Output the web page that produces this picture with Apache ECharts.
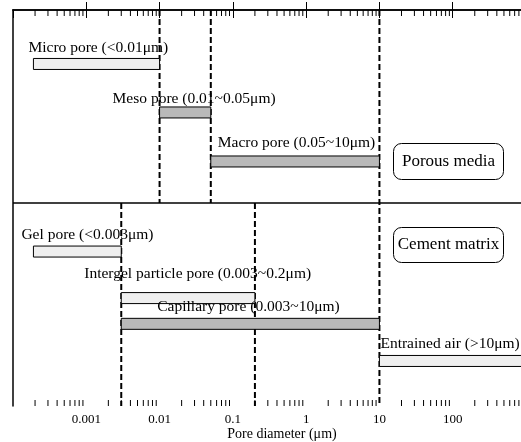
<!DOCTYPE html>
<html><head><meta charset="utf-8">
<script src="https://cdn.jsdelivr.net/npm/echarts@6/dist/echarts.min.js"></script>
<style>html,body{margin:0;padding:0;background:#fff}#c{width:521px;height:442px}</style>
</head><body><div id="c"></div>
<script>
// ---------------- data ----------------
const poreNames  = ['Micro pore', 'Meso pore', 'Macro pore', 'Gel pore', 'Intergel particle pore', 'Capillary pore', 'Entrained air'];
const poreRanges = ['(<0.01\u03bcm)', '(0.01~0.05\u03bcm)', '(0.05~10\u03bcm)', '(<0.003\u03bcm)', '(0.003~0.2\u03bcm)', '(0.003~10\u03bcm)', '(>10\u03bcm)'];
const poreStart  = [0.00019, 0.01, 0.05, 0.00019, 0.003, 0.003, 10];
const poreEnd    = [0.01, 0.05, 10, 0.003, 0.2, 10, 1000];
const porousBounds = [0.01, 0.05, 10];
const cementBounds = [0.003, 0.2, 10];
const groupNames = ['Porous media', 'Cement matrix'];
const tickLabels = ['0.001', '0.01', '0.1', '1', '10', '100'];
const decades = [0.0001, 0.001, 0.01, 0.1, 1, 10, 100];
const minorSteps = [2, 3, 4, 5, 6, 7, 8, 9];
const axisMin = 0.0001, axisMax = 1000;

// ---------------- layout (not data) ----------------
const rowPos   = [5.45, 10.35, 15.3, 24.4, 29.1, 31.7, 35.45];
const splitPos = 19.5;
const rowMax   = 40;
const shade    = ['#efefef', '#b9b9b9', '#b9b9b9', '#efefef', '#efefef', '#b9b9b9', '#efefef'];
const labelDx  = [-5, -47, 7, -12, -37, 36, 1];
const labelDy  = [-16.5, -13.5, -18.5, -17, -24, -16.5, -17];
const SERIF = '"Liberation Serif", "Times New Roman", serif';

const barData = poreNames.map((n, i) => [poreStart[i], poreEnd[i], rowPos[i]]);
const dashData = porousBounds.map(v => [v, 0, v === 10 ? rowMax : splitPos])
  .concat(cementBounds.filter(v => v !== 10).map(v => [v, splitPos, rowMax]));
const minorData = [];
decades.forEach(d => minorSteps.forEach(k => minorData.push([+(d * k).toPrecision(2)])));

const chart = echarts.init(document.getElementById('c'), null, {renderer: 'canvas'});
const xBase = {
  type: 'log', logBase: 10, min: axisMin, max: axisMax, interval: 1, splitNumber: 7,
  splitLine: {show: false}
};
chart.setOption({
  animation: false,
  backgroundColor: '#fff',
  grid: {left: 13, top: 10, right: -5, bottom: 36, containLabel: false, outerBoundsMode: 'none'},
  xAxis: [
    Object.assign({}, xBase, {
      position: 'bottom',
      axisLine: {show: true, lineStyle: {color: '#000', width: 1.5}},
      axisTick: {show: true, inside: true, length: 8, lineStyle: {color: '#000', width: 1}},
      axisLabel: {
        show: true, margin: 7, color: '#000', fontFamily: SERIF, fontSize: 13,
        showMinLabel: false, showMaxLabel: false,
        formatter: v => {
          const t = tickLabels.find(s => Math.abs(Math.log10(+s) - Math.log10(v)) < 1e-6);
          return t || '';
        }
      },
      name: 'Pore diameter (\u03bcm)', nameLocation: 'middle', nameGap: 21, nameMoveOverlap: false,
      nameTextStyle: {color: '#000', fontFamily: SERIF, fontSize: 14, padding: [0, 0, 0, 25]}
    }),
    Object.assign({}, xBase, {
      position: 'top',
      axisLine: {show: true, lineStyle: {color: '#000', width: 1.5}},
      axisTick: {show: true, inside: true, length: 8, lineStyle: {color: '#000', width: 1}},
      axisLabel: {show: false}
    })
  ],
  yAxis: {
    type: 'value', min: 0, max: rowMax, inverse: true,
    axisLine: {show: true, onZero: false, lineStyle: {color: '#000', width: 1.5}},
    axisTick: {show: false}, axisLabel: {show: false}, splitLine: {show: false}
  },
  series: [
    { // minor ticks (bottom and top), through the axis scale
      type: 'custom', xAxisIndex: 0, data: minorData, silent: true, z: 3,
      renderItem: (p, api) => {
        const b = api.coord([api.value(0), rowMax]);
        const t = api.coord([api.value(0), 0]);
        return {type: 'group', children: [
          {type: 'line', shape: {x1: b[0], y1: b[1], x2: b[0], y2: b[1] - 6}, style: {stroke: '#000', lineWidth: 1}},
          {type: 'line', shape: {x1: t[0], y1: t[1], x2: t[0], y2: t[1] + 6}, style: {stroke: '#000', lineWidth: 1}}
        ]};
      }
    },
    { // horizontal divider between the two groups
      type: 'custom', data: [[axisMin, axisMax, splitPos]], silent: true, z: 3,
      renderItem: (p, api) => {
        const a = api.coord([api.value(0), api.value(2)]);
        const b = api.coord([api.value(1), api.value(2)]);
        return {type: 'line', shape: {x1: a[0], y1: a[1], x2: b[0], y2: b[1]}, style: {stroke: '#000', lineWidth: 1.5}};
      }
    },
    { // dashed boundaries
      type: 'custom', data: dashData, silent: true, z: 4,
      renderItem: (p, api) => {
        const a = api.coord([api.value(0), api.value(1)]);
        const b = api.coord([api.value(0), api.value(2)]);
        return {type: 'line', shape: {x1: a[0], y1: a[1], x2: b[0], y2: b[1]},
          style: {stroke: '#000', lineWidth: 2, lineDash: [6, 3]}};
      }
    },
    { // pore range bars with labels
      type: 'custom', data: barData, z: 5,
      renderItem: (p, api) => {
        const i = p.dataIndex;
        const s = api.coord([api.value(0), api.value(2)]);
        const e = api.coord([api.value(1), api.value(2)]);
        const h = 11;
        return {type: 'group', children: [
          {type: 'rect', shape: {x: s[0], y: s[1] - h / 2, width: e[0] - s[0], height: h},
            style: {fill: shade[i], stroke: '#000', lineWidth: 1}},
          {type: 'text', style: {text: poreNames[i] + ' ' + poreRanges[i], x: s[0] + labelDx[i], y: s[1] + labelDy[i],
            font: '15.5px ' + SERIF, fill: '#000', align: 'left', verticalAlign: 'middle'}}
        ]};
      }
    }
  ],
  graphic: [
    {type: 'group', left: 393, top: 143, children: [
      {type: 'rect', shape: {x: 0, y: 0, width: 110, height: 36, r: 8}, style: {fill: '#fff', stroke: '#000', lineWidth: 1}},
      {type: 'text', style: {text: groupNames[0], x: 55, y: 18, align: 'center', verticalAlign: 'middle', font: '17px ' + SERIF, fill: '#000'}}
    ]},
    {type: 'group', left: 393, top: 227, children: [
      {type: 'rect', shape: {x: 0, y: 0, width: 110, height: 35, r: 8}, style: {fill: '#fff', stroke: '#000', lineWidth: 1}},
      {type: 'text', style: {text: groupNames[1], x: 55, y: 17.5, align: 'center', verticalAlign: 'middle', font: '17px ' + SERIF, fill: '#000'}}
    ]}
  ]
});
</script></body></html>
